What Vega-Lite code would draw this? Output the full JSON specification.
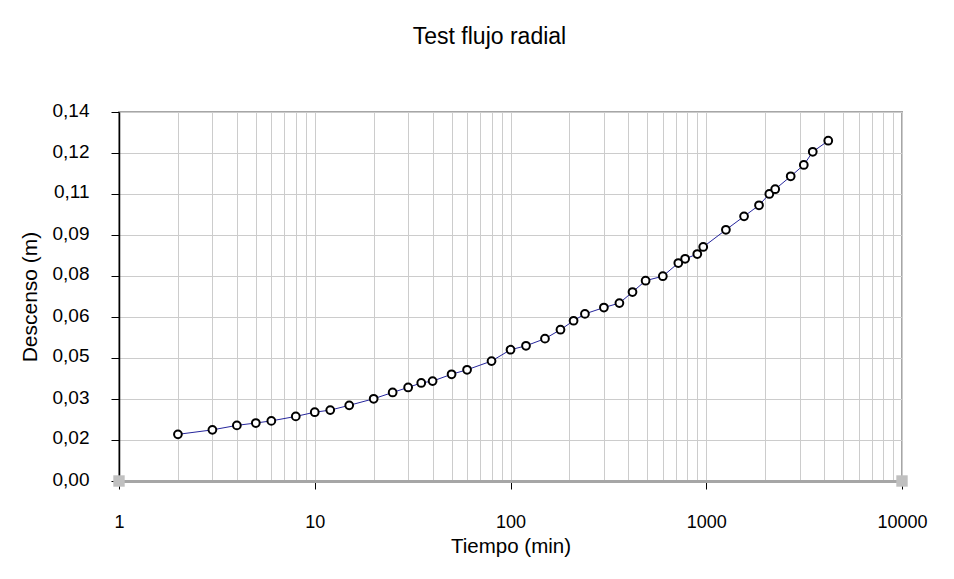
{
  "$schema": "https://vega.github.io/schema/vega-lite/v6.json",
  "width": 783,
  "height": 369,
  "autosize": {"type": "none"},
  "padding": {"left": 119, "top": 112, "right": 52, "bottom": 98},
  "background": "white",
  "title": {
    "text": "Test flujo radial",
    "font": "Liberation Sans",
    "fontSize": 23,
    "fontWeight": "normal",
    "color": "black",
    "anchor": "middle",
    "frame": "group",
    "dx": -21,
    "offset": 52
  },
  "config": {
    "view": {"stroke": "#a6a6a6", "strokeWidth": 2},
    "axis": {
      "labelFont": "Liberation Sans",
      "titleFont": "Liberation Sans",
      "labelFontSize": 18,
      "titleFontSize": 21,
      "titleFontWeight": "normal",
      "labelColor": "black",
      "titleColor": "black",
      "gridColor": "#cccccc",
      "gridWidth": 1,
      "tickColor": "black"
    }
  },
  "datasets": {
    "descenso": [
      {"t": 2, "s": 0.0177},
      {"t": 3, "s": 0.0194},
      {"t": 4, "s": 0.0211},
      {"t": 5, "s": 0.0220},
      {"t": 6, "s": 0.0228},
      {"t": 8, "s": 0.0245},
      {"t": 10, "s": 0.0261},
      {"t": 12, "s": 0.0269},
      {"t": 15, "s": 0.0287},
      {"t": 20, "s": 0.0312},
      {"t": 25, "s": 0.0336},
      {"t": 30, "s": 0.0355},
      {"t": 35, "s": 0.0372},
      {"t": 40, "s": 0.0379},
      {"t": 50, "s": 0.0405},
      {"t": 60, "s": 0.0422},
      {"t": 80, "s": 0.0455},
      {"t": 100, "s": 0.0498},
      {"t": 120, "s": 0.0513},
      {"t": 150, "s": 0.0540},
      {"t": 180, "s": 0.0574},
      {"t": 210, "s": 0.0608},
      {"t": 240, "s": 0.0634},
      {"t": 300, "s": 0.0658},
      {"t": 360, "s": 0.0675},
      {"t": 420, "s": 0.0717},
      {"t": 490, "s": 0.0760},
      {"t": 600, "s": 0.0777},
      {"t": 720, "s": 0.0827},
      {"t": 780, "s": 0.0843},
      {"t": 900, "s": 0.0861},
      {"t": 965, "s": 0.0888},
      {"t": 1260, "s": 0.0953},
      {"t": 1560, "s": 0.1004},
      {"t": 1860, "s": 0.1046},
      {"t": 2100, "s": 0.1089},
      {"t": 2250, "s": 0.1107},
      {"t": 2700, "s": 0.1156},
      {"t": 3150, "s": 0.1199},
      {"t": 3500, "s": 0.1249},
      {"t": 4200, "s": 0.1291}
    ],
    "extremos": [
      {"t": 1, "s": 0},
      {"t": 10000, "s": 0}
    ]
  },
  "layer": [
    {
      "data": {"name": "descenso"},
      "mark": {"type": "line", "color": "#26269c", "strokeWidth": 1},
      "encoding": {
        "x": {
          "field": "t",
          "type": "quantitative",
          "title": "Tiempo (min)",
          "scale": {"type": "log", "domain": [1, 10000], "nice": false},
          "axis": {
            "values": [1, 2, 3, 4, 5, 6, 7, 8, 9, 10, 20, 30, 40, 50, 60, 70, 80, 90, 100, 200, 300, 400, 500, 600, 700, 800, 900, 1000, 2000, 3000, 4000, 5000, 6000, 7000, 8000, 9000, 10000],
            "format": "d",
            "labelExpr": "indexof([1, 10, 100, 1000, 10000], datum.value) >= 0 ? datum.label : ''",
            "labelOverlap": false,
            "labelFlush": false,
            "labelPadding": 24,
            "tickSize": 8,
            "tickOpacity": {"condition": {"test": "indexof([1, 10, 100, 1000, 10000], datum.value) >= 0", "value": 1}, "value": 0},
            "domainColor": "#a6a6a6",
            "domainWidth": 3,
            "titleFontSize": 20.5,
            "titlePadding": 5,
            "grid": true
          }
        },
        "y": {
          "field": "s",
          "type": "quantitative",
          "title": "Descenso (m)",
          "scale": {"domain": [0, 0.14], "nice": false, "zero": true},
          "axis": {
            "values": [0, 0.015556, 0.031111, 0.046667, 0.062222, 0.077778, 0.093333, 0.108889, 0.124444, 0.14],
            "labelExpr": "replace(format(datum.value, '.2f'), '.', ',')",
            "labelFontSize": 19,
            "labelOffset": -2,
            "tickSize": 8,
            "labelPadding": 22,
            "domainColor": "black",
            "domainWidth": 1.5,
            "titlePadding": 12,
            "grid": true
          }
        }
      }
    },
    {
      "data": {"name": "descenso"},
      "mark": {"type": "point", "shape": "circle", "filled": false, "fill": "white", "stroke": "black", "strokeWidth": 2, "size": 60, "opacity": 1},
      "encoding": {
        "x": {"field": "t", "type": "quantitative"},
        "y": {"field": "s", "type": "quantitative"}
      }
    },
    {
      "data": {"name": "extremos"},
      "mark": {"type": "square", "color": "#c0c0c0", "size": 130, "opacity": 1},
      "encoding": {
        "x": {"field": "t", "type": "quantitative"},
        "y": {"field": "s", "type": "quantitative"}
      }
    }
  ]
}
